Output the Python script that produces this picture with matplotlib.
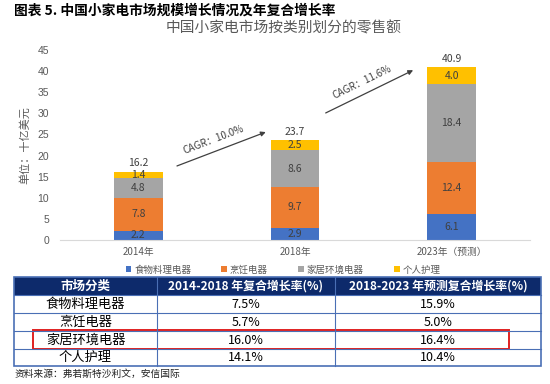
import matplotlib
matplotlib.use("Agg")
import matplotlib.pyplot as plt
import numpy as np

plt.rcParams['font.family'] = ['Noto Sans CJK SC', 'DejaVu Sans']

# chart data
years = ['2014年', '2018年', '2023年（预测）']
series = ['食物料理电器', '烹饪电器', '家居环境电器', '个人护理']
food = [2.2, 2.9, 6.1]
cook = [7.8, 9.7, 12.4]
home = [4.8, 8.6, 18.4]
care = [1.4, 2.5, 4.0]
totals = [16.2, 23.7, 40.9]
colors = ['#4472C4', '#ED7D31', '#A5A5A5', '#FFC000']

# cagr arrows (start x, start y, end x, end y) in data coords
cagr_txt = ['CAGR：10.0%', 'CAGR：11.6%']
cagr_arrows = [(0.23, 17.3, 0.83, 25.8), (1.18, 29.8, 1.77, 40.5)]

# table data
tbl_head = ['市场分类', '2014-2018 年复合增长率(%)', '2018-2023 年预测复合增长率(%)']
tbl_cat = ['食物料理电器', '烹饪电器', '家居环境电器', '个人护理']
tbl_a = ['7.5%', '5.7%', '16.0%', '14.1%']
tbl_b = ['15.9%', '5.0%', '16.4%', '10.4%']
hilite_row = 2

W, H = 550, 384
fig = plt.figure(figsize=(5.5, 3.84), dpi=100)

def fx(px):
    return px / W

def fy(py):
    return 1 - py / H

fig.text(fx(14), fy(11), '图表 5. 中国小家电市场规模增长情况及年复合增长率',
         fontsize=9.9, fontweight='bold', color='black', va='center', ha='left')
fig.text(fx(284), fy(28), '中国小家电市场按类别划分的零售额',
         fontsize=10.6, color='#595959', va='center', ha='center')

ax = fig.add_axes([fx(60), fy(240), fx(470), (240 - 50) / H])
ax.set_xlim(-0.5, 2.5)
ax.set_ylim(0, 45)
x = np.arange(len(years))
bw = 0.31
bottom = np.zeros(len(years))
for vals, c, name in zip([food, cook, home, care], colors, series):
    bars = ax.bar(x, vals, bw, bottom=bottom, color=c, label=name, zorder=2)
    for xi, b0, v in zip(x, bottom, vals):
        ax.text(xi, b0 + v / 2, f'{v:.1f}', ha='center', va='center',
                fontsize=7.5, color='#404040')
    bottom += np.array(vals)
for xi, t in zip(x, totals):
    ax.annotate(f'{t:.1f}', (xi, t), xytext=(0, 6), textcoords='offset points',
                ha='center', va='center', fontsize=7.5, color='#404040')

for (x0, y0, x1, y1), s in zip(cagr_arrows, cagr_txt):
    ax.annotate('', xy=(x1, y1), xytext=(x0, y0),
                arrowprops=dict(arrowstyle='-|>', color='#404040', lw=0.9,
                                mutation_scale=7))
    p0 = ax.transData.transform((x0, y0))
    p1 = ax.transData.transform((x1, y1))
    ang = np.degrees(np.arctan2(p1[1] - p0[1], p1[0] - p0[0]))
    ax.annotate(s, ((x0 + x1) / 2 - 0.04, (y0 + y1) / 2), xytext=(-1, 7),
                textcoords='offset points', rotation=ang, rotation_mode='anchor',
                ha='center', va='center', fontsize=7.2, color='#404040')

ax.set_yticks(np.arange(0, 46, 5))
ax.set_xticks(x)
ax.set_xticklabels(years)
for sp in ['top', 'right', 'left']:
    ax.spines[sp].set_visible(False)
ax.spines['bottom'].set_color('#d9d9d9')
ax.tick_params(axis='y', length=0, pad=8, labelsize=7.5, labelcolor='#595959')
ax.tick_params(axis='x', length=0, pad=5, labelsize=7, labelcolor='#595959')
for lab in ax.get_yticklabels():
    lab.set_family(['Liberation Sans', 'DejaVu Sans'])
ax.set_ylabel('单位：十亿美元', fontsize=8, color='#595959', labelpad=5)

fig.legend(loc='center', bbox_to_anchor=(fx(283), fy(270)), ncol=4, frameon=False,
           fontsize=6.8, labelcolor='#595959', handlelength=0.6, handleheight=0.6,
           handletextpad=0.3, columnspacing=3.2)

# table
tax = fig.add_axes([0, 0, 1, 1])
tax.set_xlim(0, W)
tax.set_ylim(H, 0)
tax.axis('off')
cols = [14, 157, 335, 541]
rows = [277, 295, 313, 331, 349, 366]
line_c = '#4a6fb5'
tax.add_patch(plt.Rectangle((cols[0], rows[0]), cols[-1] - cols[0], rows[1] - rows[0],
                            facecolor='#0d2a6b', edgecolor='none'))
for i, h in enumerate(tbl_head):
    tax.text((cols[i] + cols[i + 1]) / 2, (rows[0] + rows[1]) / 2, h, color='white',
             fontsize=9 if i == 0 else 8.6, fontweight='bold', ha='center', va='center')
for r, (c, a, b) in enumerate(zip(tbl_cat, tbl_a, tbl_b)):
    yc = (rows[r + 1] + rows[r + 2]) / 2
    for i, s in enumerate([c, a, b]):
        tax.text((cols[i] + cols[i + 1]) / 2, yc, s, color='black',
                 fontsize=9.5 if i == 0 else 9, ha='center', va='center')
for yv in rows[1:-1]:
    tax.plot([cols[0], cols[-1]], [yv, yv], color=line_c, lw=0.8)
for xv in cols[1:-1]:
    tax.plot([xv, xv], [rows[0], rows[-1]], color=line_c, lw=0.8)
tax.add_patch(plt.Rectangle((cols[0], rows[0]), cols[-1] - cols[0], rows[-1] - rows[0],
                            facecolor='none', edgecolor=line_c, lw=1.2))
ry0, ry1 = rows[hilite_row + 1], rows[hilite_row + 2]
tax.add_patch(plt.Rectangle((33, ry0 - 1), 509 - 33, ry1 - ry0 + 1,
                            facecolor='none', edgecolor='#e02020', lw=1.4))

fig.text(fx(15), fy(374), '资料来源：弗若斯特沙利文，安信国际', fontsize=7,
         color='#222222', va='center', ha='left', style='italic')

fig.savefig('out.png', dpi=100)
